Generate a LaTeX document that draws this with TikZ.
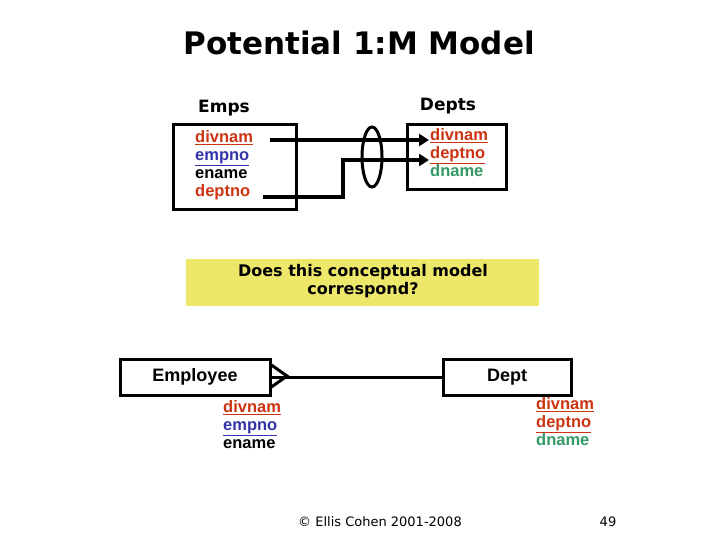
\documentclass[tikz,border=0pt]{standalone}
\usepackage{fontspec}
\usetikzlibrary{shapes.geometric,arrows.meta}
\setmainfont{Liberation Sans}
\newfontfamily\verd{DejaVu Sans}
\newcommand\myul[1]{\underline{#1}}
\definecolor{red1}{HTML}{CC3311}
\definecolor{blue1}{HTML}{3333AA}
\definecolor{green1}{HTML}{339966}
\definecolor{yel}{HTML}{EEE86A}
\begin{document}
\begin{tikzpicture}[x=1pt,y=-1pt,
  box/.style={draw,line width=3pt,inner sep=0pt},
  lbl/.style={font=\bfseries\fontsize{16.5}{18}\selectfont,align=left,inner sep=0pt,anchor=north west},
  conn/.style={line width=3.5pt},
  arr/.style={conn,-{Triangle[length=10pt,width=12pt]}}]
\useasboundingbox (0,0) rectangle (720,540);
\node[font=\verd\bfseries\fontsize{31}{34}\selectfont] (title) at (359,43) {Potential 1:M Model};
\node[font=\verd\bfseries\fontsize{17}{19}\selectfont] (emps) at (224,108) {Emps};
\node[font=\verd\bfseries\fontsize{17}{19}\selectfont] (depts) at (448,106) {Depts};
\node[box,minimum width=123pt,minimum height=85pt] (eb) at (234.5,167.5) {};
\node[box,minimum width=99pt,minimum height=65pt] (db) at (456.5,157.5) {};
\node[lbl] (et) at (195,130) {\textcolor{red1}{\myul{divnam}}\\\textcolor{blue1}{\myul{empno}}\\ename\\\textcolor{red1}{deptno}};
\node[lbl] (dt) at (430,128) {\textcolor{red1}{\myul{divnam}}\\\textcolor{red1}{\myul{deptno}}\\\textcolor{green1}{dname}};
\coordinate (a1) at (270,140); \coordinate (a1e) at (429,140);
\coordinate (a2) at (263,197); \coordinate (a2e) at (429,160);
\draw[arr] (a1) -- (a1e);
\draw[arr] (a2) -- (343,197) -- (343,160) -- (a2e);
\node[draw,line width=3pt,ellipse,minimum width=20pt,minimum height=60pt,inner sep=0pt] (ell) at (372,157) {};
\node[fill=yel,minimum width=353pt,minimum height=47pt,inner sep=0pt] (yb) at (362.5,282.5) {};
\node[font=\verd\bfseries\fontsize{16}{18}\selectfont,align=center] (q) at (363,281) {Does this conceptual model\\correspond?};
\node[box,minimum width=150pt,minimum height=36pt,font=\bfseries\fontsize{18}{20}\selectfont] (emp) at (195,377) {Employee};
\node[box,minimum width=128pt,minimum height=36pt,font=\bfseries\fontsize{18}{20}\selectfont] (dep) at (507,377) {Dept};
\coordinate (tip) at (287,376);
\draw[line width=3pt] (emp.east) -- (dep.west);
\draw[line width=3pt] (270,364) -- (tip) -- (270,388);
\node[lbl] (et2) at (223,400) {\textcolor{red1}{\myul{divnam}}\\\textcolor{blue1}{\myul{empno}}\\ename};
\node[lbl] (dt2) at (536,397) {\textcolor{red1}{\myul{divnam}}\\\textcolor{red1}{\myul{deptno}}\\\textcolor{green1}{dname}};
\node[font=\verd\fontsize{13}{15}\selectfont] (foot) at (380,522) {© Ellis Cohen 2001-2008};
\node[font=\verd\fontsize{13}{15}\selectfont] (pg) at (608,522) {49};
\end{tikzpicture}
\end{document}
